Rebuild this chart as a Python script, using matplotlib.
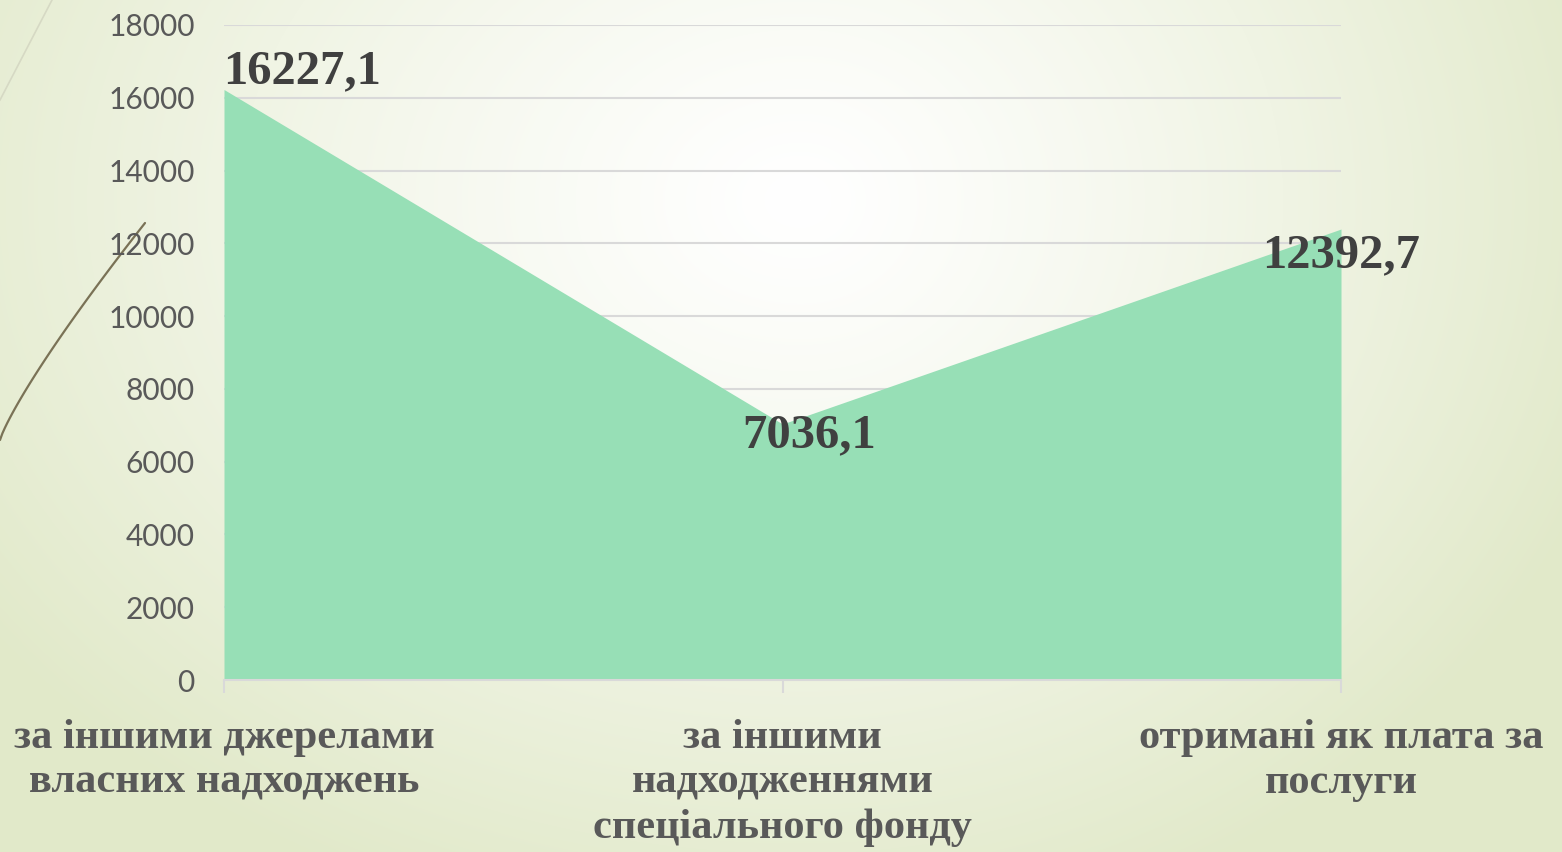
import numpy as np
import matplotlib
matplotlib.use("Agg")
import matplotlib.pyplot as plt

# ── Data ──────────────────────────────────────────────────────
categories = [
    "за іншими джерелами\nвласних надходжень",
    "за іншими\nнадходженнями\nспеціального фонду",
    "отримані як плата за\nпослуги",
]
values = [16227.1, 7036.1, 12392.7]
value_labels = ["16227,1", "7036,1", "12392,7"]
yticks = [0, 2000, 4000, 6000, 8000, 10000, 12000, 14000, 16000, 18000]

# ── Figure ────────────────────────────────────────────────────
W, H = 1562, 852
fig = plt.figure(figsize=(W / 100, H / 100), dpi=100)

# background: soft radial gradient, white centre -> pale green edges
bg = fig.add_axes([0, 0, 1, 1], zorder=-1)
yy, xx = np.mgrid[0:H, 0:W]
rx = np.where(xx < 800, 1000.0, 860.0)
d = np.sqrt(((xx - 800) / rx) ** 2 + ((yy - 200) / 760.0) ** 2)
d = np.clip(d, 0, 1) ** 1.2
white = np.array([1.0, 1.0, 1.0])
edge = np.array([0xE1, 0xE9, 0xC9]) / 255.0
img = white[None, None, :] * (1 - d[..., None]) + edge[None, None, :] * d[..., None]
bg.imshow(img, extent=[0, W, H, 0], aspect="auto")
# decorative strokes on the left
t = np.linspace(0, 1, 60)
cx = 145 * t
cy = 440 - 217 * (t ** 0.85)
bg.plot(cx, cy, color="#7A7256", lw=1.6, solid_capstyle="round")
bg.plot([0, 52], [100, 0], color="#D6D9C4", lw=1.2)
bg.set_xlim(0, W)
bg.set_ylim(H, 0)
bg.axis("off")

# main chart
ax = fig.add_axes([224 / W, 1 - 680 / H, (1341 - 224) / W, (680 - 25) / H])
ax.set_facecolor("none")
x = np.arange(len(categories))
ax.fill_between(x, values, 0, color="#97DFB6", linewidth=0, zorder=2)

ax.set_xlim(0, len(categories) - 1)
ax.set_ylim(0, 18000)
ax.set_yticks(yticks)
ax.set_yticklabels([str(v) for v in yticks], fontsize=21.5, color="#595959",
                   family="Lato")
ax.tick_params(axis="y", length=0, pad=21)
ax.set_xticks(x)
ax.set_xticklabels(categories, fontsize=30.5, fontweight="bold", color="#595959",
                   family="Liberation Serif", linespacing=1.24)
ax.tick_params(axis="x", length=9, width=1.5, color="#D9D9D9", pad=19)

ax.grid(axis="y", color="#D9D9D9", linewidth=1.5, zorder=1)
ax.set_axisbelow(True)
for s in ["top", "right", "left"]:
    ax.spines[s].set_visible(False)
ax.spines["bottom"].set_color("#D9D9D9")
ax.spines["bottom"].set_linewidth(1.5)
ax.spines["bottom"].set_zorder(3)

# data labels
offsets = [(56, 13), (19, -8), (0, -19)]
for xi, v, lab, off in zip(x, values, value_labels, offsets):
    ax.annotate(lab, (xi, v), xytext=off, textcoords="offset points",
                ha="center", va="center", fontsize=35, fontweight="bold",
                color="#404040", family="Liberation Serif", zorder=5,
                annotation_clip=False)

fig.savefig("out.png", dpi=100)
